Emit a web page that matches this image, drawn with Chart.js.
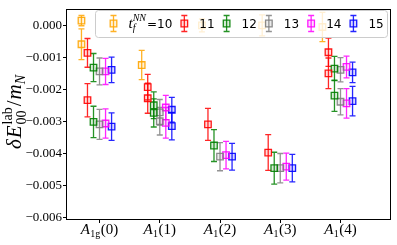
<!DOCTYPE html>
<html>
<head>
<meta charset="utf-8">
<script src="https://cdn.jsdelivr.net/npm/chart.js@4.4.1/dist/chart.umd.min.js"></script>
<style>
  html, body { margin: 0; padding: 0; background: #fff; }
  canvas { display: block; }
</style>
</head>
<body>
<canvas id="c" width="397" height="245"></canvas>
<script>
// ---------------- data ----------------
const irreps   = ['A', 'A', 'A', 'A', 'A'];
const irrepSub = ['1g', '1', '1', '1', '1'];
const irrepArg = ['(0)', '(1)', '(2)', '(3)', '(4)'];

const tLabels = ['10', '11', '12', '13', '14', '15'];
const colors  = ['#ffa500', '#ff0000', '#008000', '#808080', '#ff00ff', '#0000ff'];

// group index of every point
const grp10 = [0, 0, 1, 2, 3, 4];
const grpN  = [0, 0, 1, 1, 2, 3, 4, 4];

const val10 = [0.00015, -0.00059, -0.00124, 0.00000, 0.00000, -0.00005];
const err10 = [0.00016, 0.00048, 0.00046, 0.00020, 0.00033, 0.00046];

const val11 = [-0.00086, -0.00234, -0.00193, -0.00228, -0.00310, -0.00398, -0.00084, -0.00150];
const err11 = [0.00045, 0.00052, 0.00040, 0.00047, 0.00050, 0.00056, 0.00044, 0.00048];

const val12 = [-0.00132, -0.00302, -0.00250, -0.00274, -0.00376, -0.00447, -0.00135, -0.00220];
const err12 = [0.00044, 0.00049, 0.00042, 0.00044, 0.00050, 0.00050, 0.00038, 0.00049];

const val13 = [-0.00144, -0.00310, -0.00272, -0.00300, -0.00411, -0.00447, -0.00139, -0.00239];
const err13 = [0.00042, 0.00047, 0.00040, 0.00043, 0.00044, 0.00046, 0.00038, 0.00041];

const val14 = [-0.00144, -0.00307, -0.00257, -0.00305, -0.00406, -0.00442, -0.00130, -0.00244];
const err14 = [0.00041, 0.00046, 0.00038, 0.00048, 0.00043, 0.00042, 0.00034, 0.00046];

const val15 = [-0.00139, -0.00317, -0.00264, -0.00315, -0.00411, -0.00447, -0.00147, -0.00237];
const err15 = [0.00040, 0.00043, 0.00039, 0.00043, 0.00042, 0.00043, 0.00032, 0.00046];

const series = [
  [grp10, val10, err10],
  [grpN, val11, err11],
  [grpN, val12, err12],
  [grpN, val13, err13],
  [grpN, val14, err14],
  [grpN, val15, err15],
];

// horizontal shift of each t_f series inside a group
const shift = [-0.3, -0.2, -0.1, 0.0, 0.1, 0.2];

const MATH = "'Liberation Serif', 'DejaVu Serif', serif";
const SANS = "'DejaVu Sans', sans-serif";

function alpha(hex, a) {
  const n = parseInt(hex.slice(1), 16);
  return `rgba(${n >> 16},${(n >> 8) & 255},${n & 255},${a})`;
}

const datasets = series.map(([g, v, e], i) => ({
  label: tLabels[i],
  data: v.map((y, k) => ({ x: g[k] + shift[i], y, e: e[k] })),
  showLine: false,
  pointStyle: 'rect',
  pointRadius: 4.6,
  borderWidth: 1.3,
  borderColor: alpha(colors[i], 0.9),
  backgroundColor: alpha(colors[i], 0.15),
  barColor: alpha(colors[i], 0.85),
}));

// draw rich text pieces left to right; item = {t, font, dy} or {sup, sub, font, up, down}
function richWidth(ctx, items) {
  let w = 0;
  items.forEach(it => {
    ctx.font = it.font;
    if (it.sup !== undefined) w += Math.max(ctx.measureText(it.sup).width, ctx.measureText(it.sub).width);
    else w += ctx.measureText(it.t).width;
    w += it.gap || 0;
  });
  return w;
}
function drawRich(ctx, items, x, y) {
  items.forEach(it => {
    ctx.font = it.font;
    if (it.sup !== undefined) {
      ctx.fillText(it.sup, x, y - it.up);
      ctx.fillText(it.sub, x, y + it.down);
      x += Math.max(ctx.measureText(it.sup).width, ctx.measureText(it.sub).width);
    } else {
      ctx.fillText(it.t, x, y + (it.dy || 0));
      x += ctx.measureText(it.t).width;
    }
    x += it.gap || 0;
  });
  return x;
}

// -------------------------------------------------------
// error bars under the markers
// -------------------------------------------------------
const errorBars = {
  id: 'errorBars',
  beforeDatasetsDraw(chart) {
    const { ctx, scales: { x, y } } = chart;
    chart.data.datasets.forEach(ds => {
      ctx.save();
      ctx.strokeStyle = ds.barColor;
      ctx.lineWidth = 1.3;
      ds.data.forEach(p => {
        const px = x.getPixelForValue(p.x);
        const top = y.getPixelForValue(p.y + p.e);
        const bot = y.getPixelForValue(p.y - p.e);
        ctx.beginPath();
        ctx.moveTo(px, top); ctx.lineTo(px, bot);
        ctx.moveTo(px - 3, top); ctx.lineTo(px + 3, top);
        ctx.moveTo(px - 3, bot); ctx.lineTo(px + 3, bot);
        ctx.stroke();
      });
      ctx.restore();
    });
  },
};

// -------------------------------------------------------
// legend box laid over the data, one row
// -------------------------------------------------------
const legendBox = {
  id: 'legendBox',
  afterDatasetsDraw(chart) {
    const ctx = chart.ctx;
    const bx = 95.5, by = 10.5, bw = 292, bh = 27;
    ctx.save();
    ctx.beginPath();
    ctx.roundRect(bx, by, bw, bh, 3);
    ctx.fillStyle = 'rgba(255,255,255,0.8)';
    ctx.fill();
    ctx.strokeStyle = '#cccccc';
    ctx.lineWidth = 1;
    ctx.stroke();

    const cy = 23.5;
    let x = bx + 18;
    chart.data.datasets.forEach((ds, i) => {
      // marker with error bar
      ctx.strokeStyle = ds.barColor;
      ctx.lineWidth = 1.3;
      ctx.beginPath();
      ctx.moveTo(x, cy - 8); ctx.lineTo(x, cy + 8);
      ctx.moveTo(x - 3, cy - 8); ctx.lineTo(x + 3, cy - 8);
      ctx.moveTo(x - 3, cy + 8); ctx.lineTo(x + 3, cy + 8);
      ctx.stroke();
      ctx.fillStyle = ds.backgroundColor;
      ctx.strokeStyle = ds.borderColor;
      ctx.beginPath();
      ctx.rect(x - 3.3, cy - 3.3, 6.6, 6.6);
      ctx.fill(); ctx.stroke();

      ctx.fillStyle = '#000';
      ctx.textBaseline = 'alphabetic';
      ctx.textAlign = 'left';
      let tx = x + 15;
      if (i === 0) {
        tx = drawRich(ctx, [
          { t: 't', font: `italic 15px ${MATH}` },
          { sup: 'NN', sub: 'f', font: `italic 10px ${MATH}`, up: 7, down: 3, gap: 1 },
          { t: '=' + ds.label, font: `12px ${SANS}`, dy: 0 },
        ], tx, cy + 4.5);
      } else {
        ctx.font = `12px ${SANS}`;
        ctx.fillText(ds.label, tx, cy + 4.5);
        tx += ctx.measureText(ds.label).width;
      }
      x = tx + 12;
    });
    ctx.restore();
  },
};

// -------------------------------------------------------
// frame, irrep tick labels, y title
// -------------------------------------------------------
const decor = {
  id: 'decor',
  afterDraw(chart) {
    const { ctx, chartArea: a, scales: { x } } = chart;
    ctx.save();
    ctx.strokeStyle = '#000';
    ctx.lineWidth = 1;
    ctx.strokeRect(Math.round(a.left) - 0.5, Math.round(a.top) + 0.5,
                   Math.round(a.right - a.left), Math.round(a.bottom - a.top));

    ctx.fillStyle = '#000';
    ctx.textBaseline = 'alphabetic';
    ctx.textAlign = 'left';
    irreps.forEach((name, i) => {
      const items = [
        { t: name, font: `italic 15px ${MATH}`, gap: 0.5 },
        { t: irrepSub[i], font: `10px ${MATH}`, dy: 3, gap: 0.5 },
        { t: irrepArg[i], font: `15px ${MATH}` },
      ];
      const w = richWidth(ctx, items);
      drawRich(ctx, items, x.getPixelForValue(i) - w / 2, 234);
    });

    // rotated y-axis title
    const title = [
      { t: 'δ', font: `italic 21px ${MATH}`, gap: 1 },
      { t: 'E', font: `italic 21px ${MATH}`, gap: 1 },
      { sup: 'lab', sub: '00', font: `14px ${MATH}`, up: 9, down: 5, gap: 1 },
      { t: '/', font: `21px ${MATH}`, gap: 1 },
      { t: 'm', font: `italic 21px ${MATH}` },
      { t: 'N', font: `italic 14px ${MATH}`, dy: 4 },
    ];
    ctx.translate(21, 112);
    ctx.rotate(-Math.PI / 2);
    const tw = richWidth(ctx, title);
    drawRich(ctx, title, -tw / 2, 0);
    ctx.restore();
  },
};

new Chart(document.getElementById('c'), {
  type: 'scatter',
  data: { datasets },
  options: {
    responsive: false,
    devicePixelRatio: 1,
    animation: false,
    layout: { padding: { top: 3, right: 2, left: 0, bottom: 0 } },
    plugins: { legend: { display: false }, tooltip: { enabled: false } },
    scales: {
      x: {
        type: 'linear',
        min: -0.54,
        max: 4.84,
        afterFit: s => { s.height = 26; },
        ticks: { stepSize: 1, includeBounds: false, callback: () => '' },
        grid: { drawOnChartArea: false, drawTicks: true, tickLength: 4, color: '#000' },
        border: { display: false },
      },
      y: {
        min: -0.00606,
        max: 0.00052,
        afterFit: s => { s.width = 67; },
        ticks: {
          stepSize: 0.001,
          includeBounds: false,
          padding: 1,
          color: '#000',
          font: { family: MATH, size: 13 },
          callback: v => (v < -1e-9 ? '\u2212' : '') + Math.abs(v).toFixed(3),
        },
        grid: { drawOnChartArea: false, drawTicks: true, tickLength: 4, color: '#000' },
        border: { display: false },
      },
    },
  },
  plugins: [errorBars, legendBox, decor],
});
</script>
</body>
</html>
